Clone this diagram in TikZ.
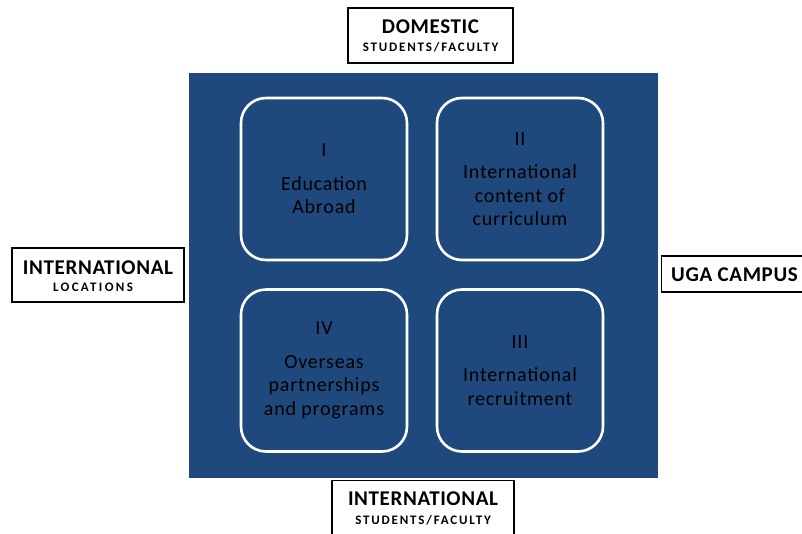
\documentclass[tikz,border=0pt]{standalone}
\usepackage{fontspec}
\setmainfont{Carlito}
\definecolor{panelblue}{RGB}{31,73,125}
\newcommand{\tagmain}[1]{{\bfseries\fontsize{21}{22}\selectfont\addfontfeature{LetterSpace=3}#1}}
\newcommand{\tagsub}[1]{{\bfseries\fontsize{13}{14}\selectfont\addfontfeature{LetterSpace=14}#1}}
\begin{document}
\begin{tikzpicture}[x=1pt,y=-1pt,
  quad/.style={draw=white,line width=2.6pt,rounded corners=25pt,
    minimum width=166pt,minimum height=162pt,text=black,align=center,
    font=\fontsize{20}{23.5}\selectfont\addfontfeature{LetterSpace=4},inner sep=0pt},
  tag/.style={draw=black,line width=1.3pt,fill=white,inner sep=0pt},
  tagshadow/.style={fill=black},
  txt/.style={inner sep=0pt,anchor=base}]
\useasboundingbox (0,0) rectangle (802,533);
% background panel
\fill[panelblue] (189,73) rectangle (658,478);
% four quadrants
\node[quad] (q1) at (324,179) {I\\[10pt]Education\\Abroad};
\node[quad] (q2) at (520,179) {II\\[10pt]International\\content of\\curriculum};
\node[quad] (q4) at (324,370.5) {IV\\[10pt]Overseas\\partnerships\\and programs};
\node[quad] (q3) at (520,370.5) {III\\[10pt]International\\recruitment};
% axis label frames, each with a thin dark drop shadow
\fill[tagshadow] (349.5,9.5) rectangle (514,64);
\node[tag,minimum width=165pt,minimum height=55pt] (top) at (430.5,35.5) {};
\fill[tagshadow] (13.5,249.5) rectangle (185,303);
\node[tag,minimum width=172pt,minimum height=54pt] (left) at (98,275) {};
\fill[tagshadow] (662.5,257.5) rectangle (812,293);
\node[tag,minimum width=150pt,minimum height=36pt,anchor=west] (right) at (661,274) {};
\fill[tagshadow] (333.5,481.5) rectangle (515,545);
\node[tag,minimum width=182pt,minimum height=60pt,anchor=north] (bottom) at (423,480) {};
% axis label texts
\node[txt] (topA) at (430.5,33) {\tagmain{DOMESTIC}};
\node[txt] (topB) at (430.5,51) {\tagsub{STUDENTS/FACULTY}};
\node[txt] (leftA) at (98,274) {\tagmain{INTERNATIONAL}};
\node[txt] (leftB) at (93,291) {{\bfseries\fontsize{13}{14}\selectfont\addfontfeature{LetterSpace=18}LOCATIONS}};
\node[txt,anchor=base west] (rightA) at (671,281) {\tagmain{UGA CAMPUS}};
\node[txt] (botA) at (423,505) {\tagmain{INTERNATIONAL}};
\node[txt] (botB) at (423,524) {\tagsub{STUDENTS/FACULTY}};
\end{tikzpicture}
\end{document}
